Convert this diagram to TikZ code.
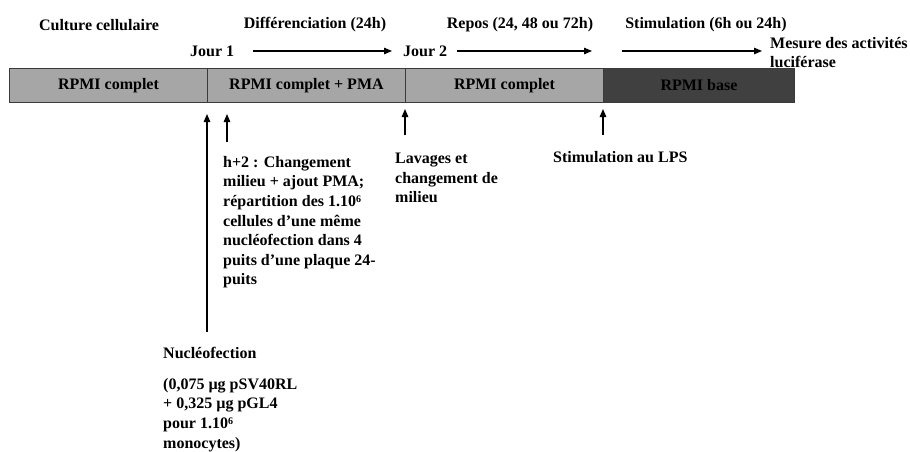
\documentclass[tikz,border=0pt]{standalone}
\usepackage{fontspec}
\setmainfont{Liberation Serif}
\usetikzlibrary{arrows.meta}
\definecolor{lgray}{HTML}{A6A6A6}
\definecolor{dgray}{HTML}{404040}
\definecolor{edge}{HTML}{3A3A3A}
\newcommand{\supsix}{\smash{\raisebox{4.5pt}{\fontsize{10}{10}\selectfont 6}}}
\begin{document}
\begin{tikzpicture}[x=1pt,y=-1pt,
  every node/.style={font=\fontsize{16}{19.6}\selectfont\bfseries, inner sep=0pt},
  seg/.style={draw=edge, line width=0.9pt, minimum height=34pt, anchor=north west},
  lbl/.style={align=left, anchor=north west},
  arr/.style={line width=1.2pt, -{Triangle[length=8pt,width=6.5pt]}}]
\useasboundingbox (0,0) rectangle (910,451);
% top labels
\node (cult) at (99,25) {Culture cellulaire};
\node (diff) at (315,25) {Différenciation (24h)};
\node (repos) at (520,25) {Repos (24, 48 ou 72h)};
\node (stim) at (706,25) {Stimulation (6h ou 24h)};
\node[anchor=west] (j1) at (190,51) {Jour 1};
\node[anchor=west] (j2) at (403,51) {Jour 2};
\node[lbl] (mes) at (770,37) {Mesure des activités\\luciférase};
\coordinate (a1s) at (253,51); \coordinate (a1e) at (392,51);
\coordinate (a2s) at (457,51); \coordinate (a2e) at (592,51);
\coordinate (a3s) at (622,51); \coordinate (a3e) at (762,51);
\draw[arr] (a1s) -- (a1e);
\draw[arr] (a2s) -- (a2e);
\draw[arr] (a3s) -- (a3e);
% bar
\node[seg, fill=lgray, minimum width=198pt] (s1) at (9,68) {RPMI complet};
\node[seg, fill=lgray, minimum width=198pt] (s2) at (207,68) {RPMI complet + PMA};
\node[seg, fill=lgray, minimum width=198pt] (s3) at (405,68) {RPMI complet};
\node[seg, fill=dgray, minimum width=191pt, text=black] (s4) at (603,68) {RPMI base};
% bottom annotations
\node[lbl] (h2) at (223,156) {h+2 : Changement\\milieu + ajout PMA;\\répartition des 1.10\supsix\\cellules d’une même\\nucléofection dans 4\\puits d’une plaque 24-\\puits};
\node[lbl] (lav) at (395,153) {Lavages et\\changement de\\milieu};
\node[lbl] (lps) at (553,151) {Stimulation au LPS};
\node[lbl] (nuc) at (163,347) {Nucléofection};
\node[lbl] (nuc2) at (163,378) {(0,075 µg pSV40RL\\+ 0,325 µg pGL4\\pour 1.10\supsix\\monocytes)};
\coordinate (v1b) at (207,332); \coordinate (v1t) at (207,114);
\coordinate (v2b) at (227,142); \coordinate (v2t) at (227,114);
\coordinate (v3b) at (405,135); \coordinate (v3t) at (405,109);
\coordinate (v4b) at (603,135); \coordinate (v4t) at (603,109);
\draw[arr] (v1b) -- (v1t);
\draw[arr] (v2b) -- (v2t);
\draw[arr] (v3b) -- (v3t);
\draw[arr] (v4b) -- (v4t);
\end{tikzpicture}
\end{document}
